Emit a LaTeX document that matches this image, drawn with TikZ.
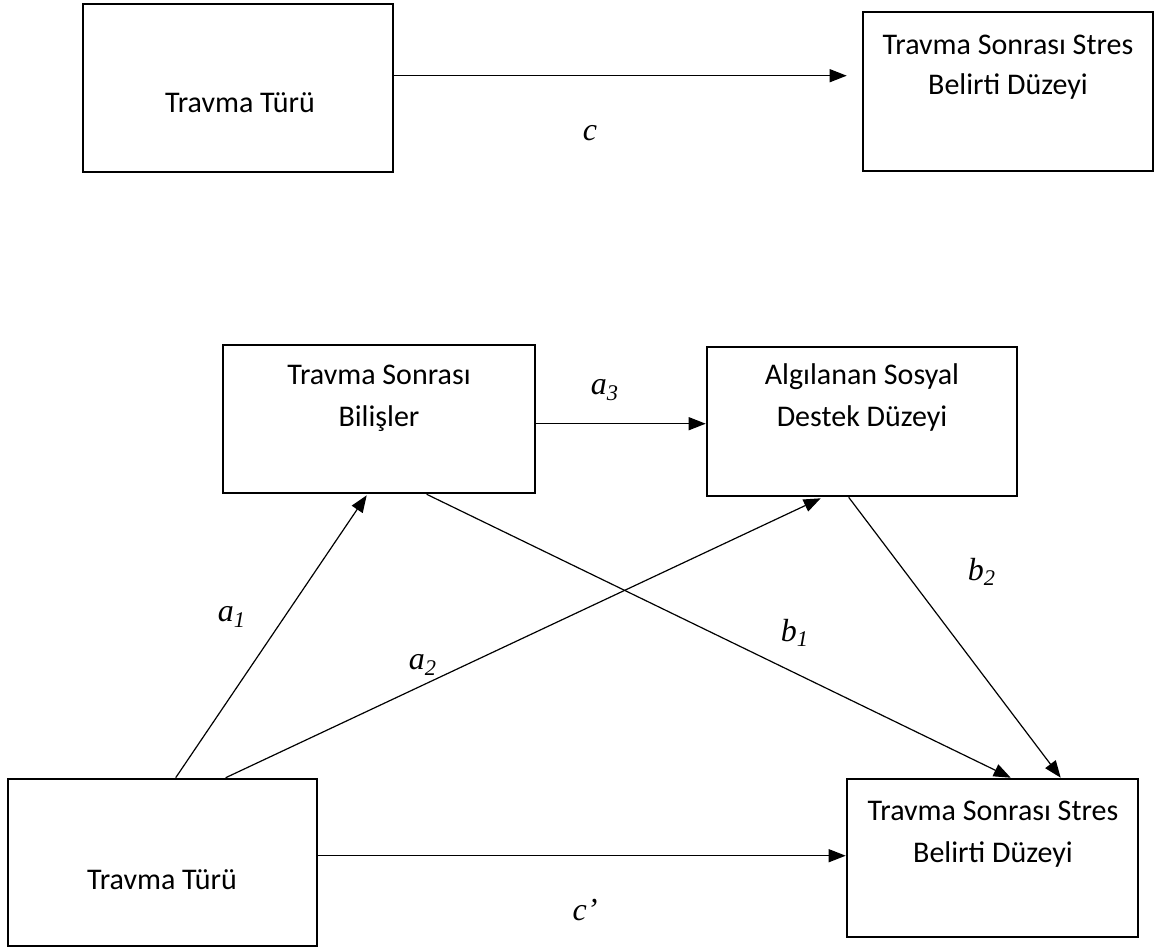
\documentclass[tikz,border=0pt]{standalone}
\usepackage{fontspec}
\setmainfont{Carlito}
\newfontfamily\lblfont{Liberation Serif}
\usetikzlibrary{arrows.meta,calc}
\begin{document}
\begin{tikzpicture}[x=0.5pt,y=-0.5pt,
  box/.style={draw, line width=1.3pt, rectangle, inner sep=0pt},
  txt/.style={anchor=base, inner sep=0pt, font=\fontsize{15}{18}\selectfont},
  lbl/.style={inner sep=0pt, font=\lblfont\itshape\fontsize{16}{19}\selectfont},
  arr/.style={line width=0.6pt, -{Triangle[length=8.5pt,width=6.5pt]}}]
\useasboundingbox (0,0) rectangle (1157,948);
% boxes
\node[box, minimum width=155pt, minimum height=84pt] (tl) at (238,88) {};
\node[box, minimum width=145pt, minimum height=79.5pt] (tr) at (1008,91.5) {};
\node[box, minimum width=156pt, minimum height=74pt] (mb) at (379,419) {};
\node[box, minimum width=155pt, minimum height=74.5pt] (ms) at (862,421.5) {};
\node[box, minimum width=154.5pt, minimum height=83.5pt] (bl) at (162.5,862.5) {};
\node[box, minimum width=145.5pt, minimum height=79pt] (br) at (992.5,858) {};
% texts
\node[txt] (tlt) at (240,112) {Travma Türü};
\node[txt] (trt1) at (1008,54) {Travma Sonrası Stres};
\node[txt] (trt2) at (1008,94) {Belirti Düzeyi};
\node[txt] (mbt1) at (379,384) {Travma Sonrası};
\node[txt] (mbt2) at (379,426) {Bilişler};
\node[txt] (mst1) at (862,384) {Algılanan Sosyal};
\node[txt] (mst2) at (862,426) {Destek Düzeyi};
\node[txt] (blt) at (162,889) {Travma Türü};
\node[txt] (brt1) at (993,820) {Travma Sonrası Stres};
\node[txt] (brt2) at (993,862) {Belirti Düzeyi};
% labels
\node[lbl] (lc) at (590,133) {c};
\node[lbl] (la3) at (605,390) {a\textsubscript{3}};
\node[lbl] (la1) at (232,617) {a\textsubscript{1}};
\node[lbl] (la2) at (423,665) {a\textsubscript{2}};
\node[lbl] (lb1) at (795,633) {b\textsubscript{1}};
\node[lbl] (lb2) at (982,572) {b\textsubscript{2}};
\node[lbl] (lcp) at (585,910) {c’};
% connectors
\coordinate (tipc) at ($(tr.north west)+(-15,65)$);
\draw[arr] ($(tl.north east)+(0,73)$) -- (tipc);
\draw[arr] ($(mb.north east)+(0,80)$) -- ($(ms.north west)+(0,78)$);
\draw[arr] ($(bl.north west)+(169,0)$) -- ($(mb.south west)+(145,1)$);
\draw[arr] ($(bl.north west)+(219,0)$) -- ($(ms.south west)+(115,1)$);
\draw[arr] ($(mb.south west)+(205,0)$) -- ($(br.north west)+(165,0)$);
\draw[arr] ($(ms.south west)+(143,0)$) -- ($(br.north west)+(215,0)$);
\draw[arr] ($(bl.north east)+(0,78)$) -- ($(br.north west)+(0,78)$);
\end{tikzpicture}
\end{document}
